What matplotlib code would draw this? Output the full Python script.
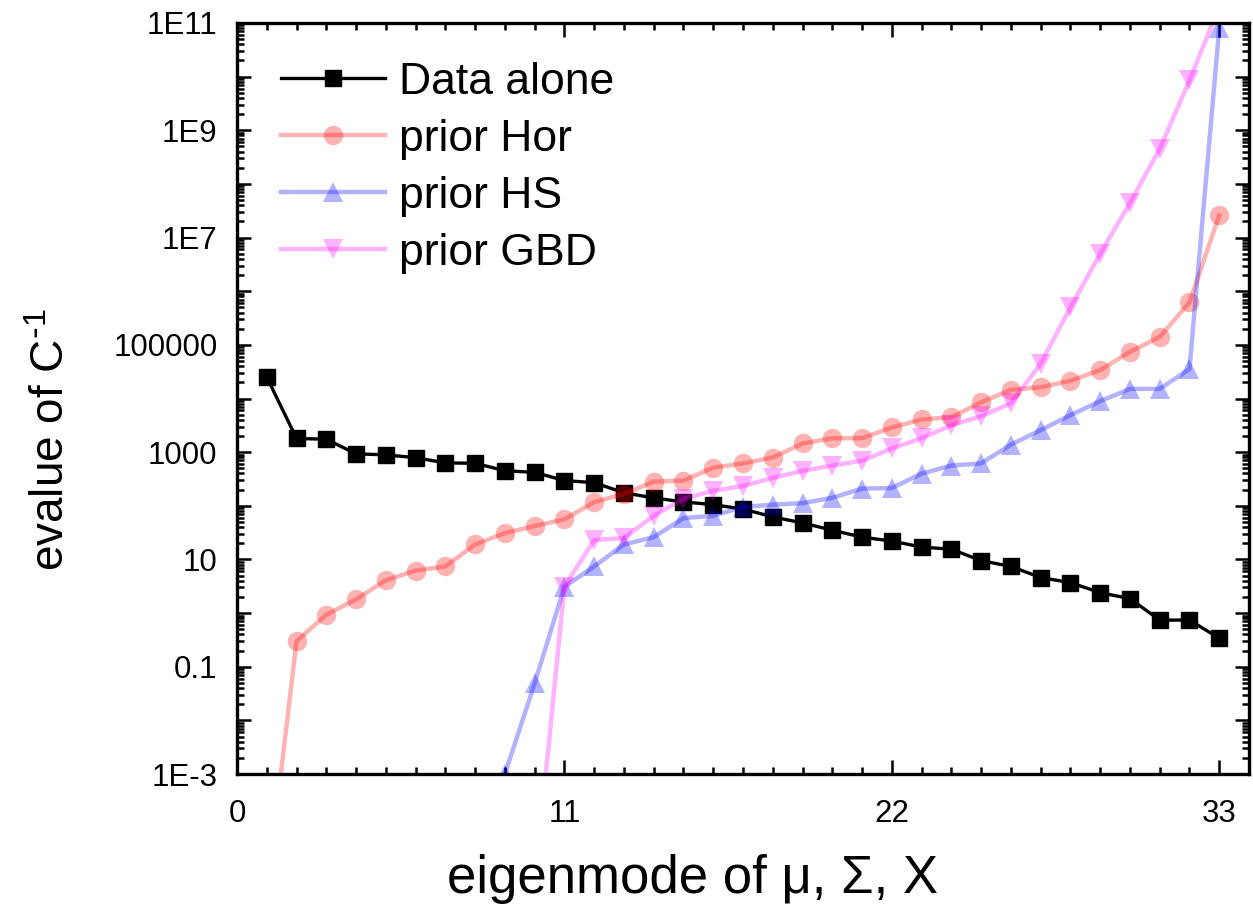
import numpy as np
import matplotlib
matplotlib.use('Agg')
import matplotlib.pyplot as plt
from matplotlib.ticker import MultipleLocator, LogLocator, FuncFormatter, NullFormatter

plt.rcParams['font.family'] = ['Liberation Sans', 'DejaVu Sans']
plt.rcParams['mathtext.default'] = 'regular'

nan = np.nan
modes = np.arange(1, 34)

data_alone = [2.5e4, 1.8e3, 1.74e3, 930, 890, 790, 630, 620, 450, 420, 295, 270,
              175, 140, 118, 105, 87, 62, 48, 35, 26, 22, 17, 15.5, 9.5, 7.4,
              4.6, 3.7, 2.4, 1.86, 0.74, 0.74, 0.34]
prior_hor = [6e-6, 0.30, 0.93, 1.8, 4.1, 6.2, 7.4, 19, 31, 42, 56, 117, 166, 282,
             295, 513, 617, 794, 1450, 1820, 1820, 2880, 4070, 4470, 8500, 14500,
             16200, 21400, 33900, 74000, 1.41e5, 6.17e5, 2.6e7]
prior_hs = [nan] * 8 + [1.0e-3, 0.049, 3.1, 7.4, 19, 26, 59, 65, 95, 105, 112, 141,
                        209, 214, 398, 562, 617, 1380, 2570, 4900, 8900, 15100,
                        15100, 35500, 8e10]
prior_gbd = [nan] * 9 + [8e-6, 3.1, 23, 25, 65, 135, 190, 234, 331, 447, 562, 692,
                         1170, 1820, 3160, 4680, 8130, 44700, 5.0e5, 5.0e6, 4.4e7,
                         4.5e8, 8.5e9, 2e11]

fig = plt.figure(figsize=(12.53, 9.16), dpi=100)
ax = fig.add_axes([237 / 1253, 1 - 774 / 916, (1249 - 237) / 1253, (774 - 23) / 916])

ax.plot(modes, data_alone, color='black', lw=2.4, marker='s', ms=11, label='Data alone')
ax.plot(modes, prior_hor, color='red', alpha=0.3, lw=3.2, marker='o', ms=14, mew=0, label='prior Hor')
ax.plot(modes, prior_hs, color='blue', alpha=0.3, lw=3.2, marker='^', ms=15, mew=0, label='prior HS')
ax.plot(modes, prior_gbd, color='magenta', alpha=0.3, lw=3.2, marker='v', ms=15, mew=0, label='prior GBD')

ax.set_yscale('log')
ax.set_xlim(0, 34)
ax.set_ylim(1e-3, 1e11)

ax.xaxis.set_major_locator(MultipleLocator(11))
ax.xaxis.set_minor_locator(MultipleLocator(1))
ax.yaxis.set_major_locator(LogLocator(base=10, numticks=40))
ax.yaxis.set_minor_locator(LogLocator(base=10, subs=np.arange(2, 10), numticks=40))
ax.yaxis.set_minor_formatter(NullFormatter())


def ylab(v, pos):
    e = int(round(np.log10(v)))
    if e % 2 == 0:
        return ''
    if 0 <= e <= 5:
        return str(10 ** e)
    if e == -1:
        return '0.1'
    return '1E%d' % e


ax.yaxis.set_major_formatter(FuncFormatter(ylab))

for s in ax.spines.values():
    s.set_linewidth(2.4)
ax.tick_params(which='both', direction='in', top=True, right=True, width=1.8)
ax.tick_params(which='major', length=10)
ax.tick_params(which='minor', length=5)
ax.tick_params(axis='x', which='major', labelsize=22.5, pad=18)
ax.tick_params(axis='y', which='major', labelsize=22.5, pad=14)

ax.set_xlabel('eigenmode of μ, Σ, X', fontsize=38, va='center')
ax.xaxis.set_label_coords(0.45, -0.14)
ax.set_ylabel(r'evalue of C$^{\text{-}1}$', fontsize=33, va='center')
ax.yaxis.set_label_coords(-0.183, 0.445)

ax.legend(loc='upper left', bbox_to_anchor=(0.0435, 0.948), frameon=False,
          fontsize=32, handlelength=2.35, handletextpad=0.3, labelspacing=0.36,
          borderpad=0, borderaxespad=0)

fig.savefig('out.png', dpi=100)
